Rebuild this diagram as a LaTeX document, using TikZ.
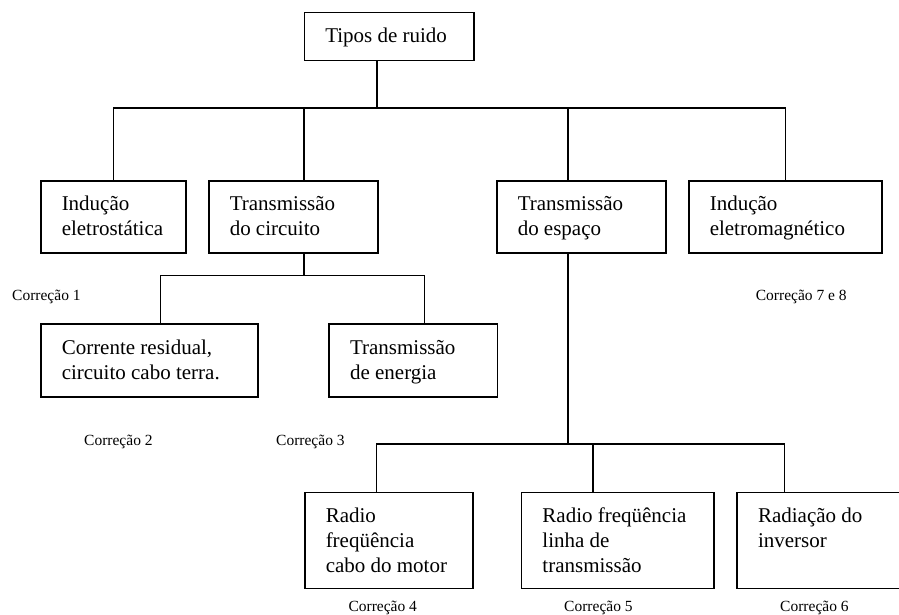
\documentclass[tikz,border=0pt]{standalone}
\usepackage{fontspec}
\setmainfont{Liberation Serif}
\usetikzlibrary{calc}
\newcommand{\bxt}[3]{\begin{minipage}[c][#2][t]{#1}\fontsize{21pt}{25pt}\selectfont\leftskip=21pt\rule{0pt}{30pt}#3\end{minipage}}
\newcommand{\bxc}[3]{\begin{minipage}[c][#2][t]{#1}\fontsize{21pt}{25pt}\selectfont\leftskip=21pt\rule{0pt}{30pt}#3\end{minipage}}
\tikzset{
  bx/.style={draw=black, line width=1.5pt, inner sep=0pt, anchor=north west},
  conn/.style={draw=black, line width=1.5pt},
  corr/.style={inner sep=0pt, anchor=base west, font=\fontsize{15.5pt}{18pt}\selectfont}
}
\begin{document}
\begin{tikzpicture}[x=1pt,y=-1pt]
\useasboundingbox (0,0) rectangle (899,615);
\clip (0,0) rectangle (899,615);
\fill[white] (0,0) rectangle (899,615);
% boxes
\node[bx] (top) at (303.5,12) {\bxc{169.5pt}{48pt}{Tipos de ruido}};
\node[bx] (r1) at (40,180) {\bxt{145pt}{72pt}{Indução\\eletrostática}};
\node[bx] (r2) at (208,180) {\bxt{169pt}{72pt}{Transmissão\\do circuito}};
\node[bx] (r3) at (496,180) {\bxt{169pt}{72pt}{Transmissão\\do espaço}};
\node[bx] (r4) at (688,180) {\bxt{193pt}{72pt}{Indução\\eletromagnético}};
\node[bx] (c1) at (40,323.3) {\bxt{217pt}{72.7pt}{Corrente residual,\\circuito cabo terra.}};
\node[bx] (c2) at (328.3,323.3) {\bxt{168.4pt}{72.7pt}{Transmissão\\de energia}};
\node[bx] (b1) at (304,491.7) {\bxt{168.3pt}{96pt}{Radio\\freqüência\\cabo do motor}};
\node[bx] (b2) at (520.7,491.7) {\bxt{192.3pt}{96pt}{Radio freqüência\\linha de\\transmissão}};
\node[bx] (b3) at (736.3,491.7) {\bxt{200pt}{96pt}{Radiação do\\inversor}};
% connectors level 1
\coordinate (j1) at (377,108);
\draw[conn] (top.south -| j1) -- (j1);
\draw[conn] (r1.north) |- (j1) -| (r4.north);
\draw[conn] ($(r2.north west)+(96,0)$) -- ++(0,-72);
\draw[conn] ($(r3.north west)+(72,0)$) -- ++(0,-72);
% connectors level 2 left
\coordinate (j2) at (304,275.3);
\draw[conn] ($(r2.south west)+(96,0)$) -- (j2);
\draw[conn] ($(c1.north west)+(120.7,0)$) |- (j2) -| ($(c2.north west)+(96,0)$);
% connectors level 2 right
\coordinate (j3) at (568,444);
\draw[conn] ($(r3.south west)+(72,0)$) -- (j3);
\draw[conn] ($(b1.north west)+(72.7,0)$) |- (j3) -| ($(b3.north west)+(48.4,0)$);
\draw[conn] ($(b2.north west)+(72.3,0)$) -- ++(0,-47.7);
% labels
\node[corr] (l1) at (12,300.5) {Correção 1};
\node[corr] (l2) at (84,445.7) {Correção 2};
\node[corr] (l3) at (276,445.7) {Correção 3};
\node[corr] (l4) at (348.3,611.5) {Correção 4};
\node[corr] (l5) at (564,611.5) {Correção 5};
\node[corr] (l6) at (780,611.5) {Correção 6};
\node[corr] (l78) at (755.7,300.5) {Correção 7 e 8};
\end{tikzpicture}
\end{document}
